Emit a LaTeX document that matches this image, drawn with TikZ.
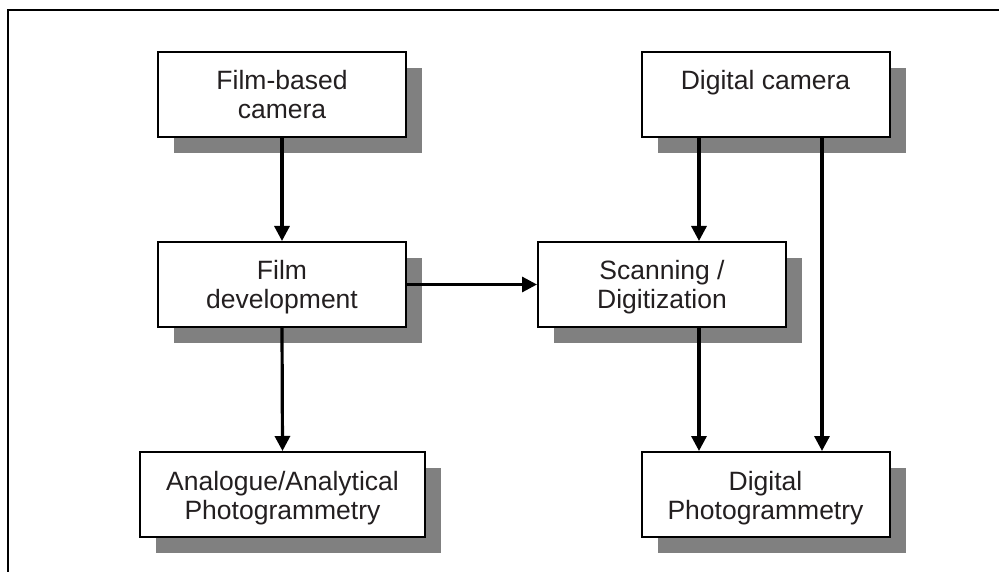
\documentclass[tikz,border=0pt]{standalone}
\usepackage{fontspec}
\setmainfont{Liberation Sans}
\usetikzlibrary{arrows.meta,shadows}
\definecolor{shadowgray}{HTML}{808080}
\definecolor{txt}{HTML}{231F20}
\newcommand\firstln{\rule{0pt}{28.7pt}}
\begin{document}
\begin{tikzpicture}[x=1pt,y=-1pt,
  box/.style={draw=black,line width=2pt,fill=white,rectangle,inner sep=0pt,
    minimum width=248pt,minimum height=85pt,align=center,text=txt,
    font=\fontsize{26.5}{29}\selectfont,
    general shadow={fill=shadowgray,shadow xshift=16pt,shadow yshift=-16pt}},
  arr/.style={line width=3.2pt,-{Triangle[length=15pt,width=15pt]}}]
\useasboundingbox (0,0) rectangle (999,572);
\draw[line width=2pt] (8,572) -- (8,10) -- (999,10);
\node[box] (fbc) at (282,94.5) {\firstln Film-based\\camera\strut};
\node[box] (dc) at (765.5,94.5) {\firstln Digital camera\\\strut};
\node[box] (fd) at (282,284.5) {\firstln Film\\development\strut};
\node[box] (sd) at (662,284.5) {\firstln Scanning /\\Digitization\strut};
\node[box,minimum width=285pt] (aap) at (282.5,494.5) {\firstln Analogue/Analytical\\Photogrammetry\strut};
\node[box] (dp) at (765.5,494.5) {\firstln Digital\\Photogrammetry\strut};
\coordinate (xa) at (699,0);
\coordinate (xb) at (822,0);
\draw[arr] (fbc.south) -- (fd.north);
\draw[arr] (fd.south) -- (aap.north);
\draw[arr] (fd.east) -- (sd.west);
\draw[arr] (dc.south -| xa) -- (sd.north -| xa);
\draw[arr] (dc.south -| xb) -- (dp.north -| xb);
\draw[arr] (sd.south -| xa) -- (dp.north -| xa);
\end{tikzpicture}
\end{document}
